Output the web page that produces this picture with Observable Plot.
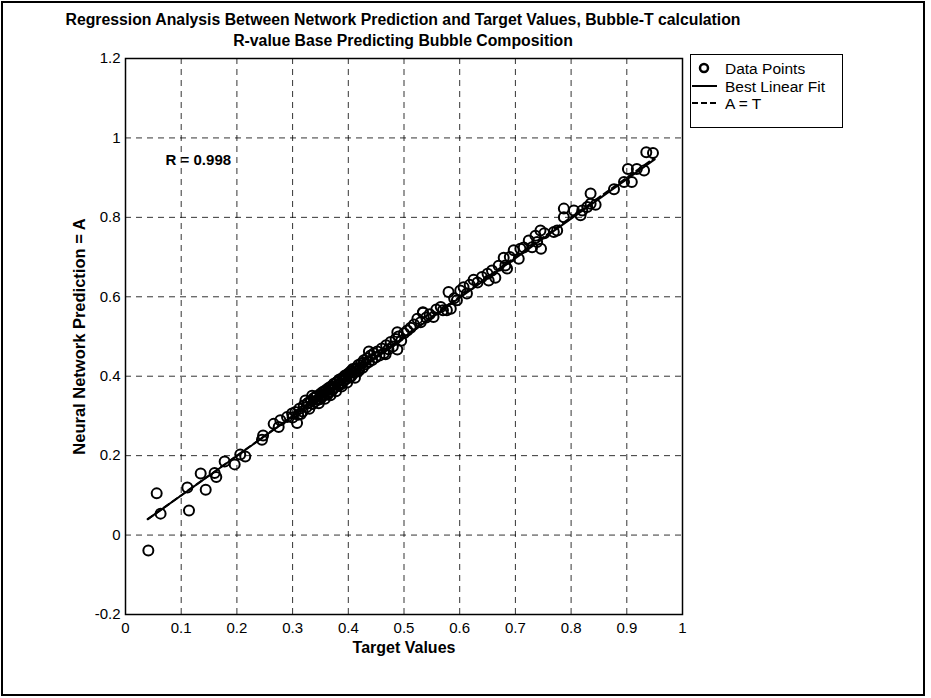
<!DOCTYPE html>
<html>
<head>
<meta charset="utf-8">
<script src="https://cdn.jsdelivr.net/npm/d3@7"></script>
<script src="https://cdn.jsdelivr.net/npm/@observablehq/plot@0.6"></script>
<style>
  body { margin: 0; background: #fff; }
  #fig { position: relative; width: 931px; height: 698px; font-family: "Liberation Sans", Arial, sans-serif; }
  #outer { position: absolute; left: 1px; top: 1px; width: 920px; height: 691px; border: 2px solid #000; box-sizing: content-box; pointer-events: none; }
  .title { position: absolute; left: 0; width: 806px; text-align: center; font-family: "Liberation Sans", Arial, sans-serif; font-weight: bold; font-size: 15.8px; line-height: 18px; color: #000; white-space: nowrap; }
  #legend { position: absolute; left: 690px; top: 54px; width: 151px; height: 72px; border: 1px solid #000; background: #fff; }
  #chart { position: absolute; left: 0; top: 0; }
</style>
</head>
<body>
<div id="fig">
  <div id="chart"></div>
  <div class="title" style="top:11px">Regression Analysis Between Network Prediction and Target Values, Bubble-T calculation</div>
  <div class="title" style="top:32px">R-value Base Predicting Bubble Composition</div>
  <div id="legend"></div>
  <div id="outer"></div>
</div>
<script>
// ---- data ----
const targetT = [
  0.041,0.056,0.063,0.111,0.114,0.135,0.144,0.160,0.163,0.178,0.196,0.206,0.215,0.245,0.247,0.266,0.275,0.278,0.290,0.299,0.308,0.323,0.335,
  0.300,0.305,0.310,0.312,0.318,0.320,0.325,0.328,0.330,0.333,0.336,0.338,0.340,0.343,0.345,0.347,0.350,0.352,0.354,0.356,0.358,0.360,
  0.362,0.364,0.366,0.368,0.370,0.372,0.374,0.376,0.378,0.380,0.382,0.384,0.386,0.388,0.390,0.392,0.394,0.396,0.398,0.400,0.402,0.404,
  0.406,0.408,0.410,0.412,0.414,0.416,0.418,0.420,0.423,0.426,0.428,0.431,0.434,0.437,0.437,0.440,0.443,0.446,0.449,0.452,0.456,0.460,
  0.464,0.467,0.468,0.472,0.476,0.480,0.485,0.488,0.488,0.490,0.495,0.500,0.506,0.512,0.518,0.524,0.530,0.534,0.534,0.540,0.546,0.553,
  0.558,0.566,0.570,0.577,0.580,0.584,0.590,0.595,0.601,0.607,0.613,0.618,0.625,0.632,0.640,0.650,0.652,0.658,0.664,0.670,0.679,0.682,
  0.685,0.690,0.697,0.706,0.709,0.715,0.724,0.730,0.736,0.739,0.745,0.746,0.752,0.769,0.775,0.787,0.787,0.805,0.817,0.820,0.829,0.835,
  0.835,0.844,0.877,0.895,0.902,0.909,0.918,0.931,0.935,0.947,
  0.315,0.327,0.342,0.349,0.357,0.363,0.371,0.379,0.387,0.395,0.403,0.411,0.419,0.427,0.352,0.367,0.383,0.399
];
const predictedA = [
  -0.039,0.105,0.054,0.120,0.062,0.155,0.114,0.156,0.146,0.185,0.178,0.203,0.198,0.240,0.251,0.280,0.272,0.289,0.297,0.306,0.282,0.339,0.351,
  0.296,0.310,0.303,0.318,0.311,0.326,0.322,0.333,0.318,0.338,0.330,0.345,0.336,0.350,0.341,0.332,0.356,0.347,0.360,0.352,0.343,0.365,
  0.357,0.370,0.361,0.352,0.375,0.366,0.381,0.372,0.362,0.386,0.378,0.392,0.383,0.374,0.396,0.388,0.402,0.393,0.384,0.407,0.398,0.412,
  0.401,0.418,0.409,0.396,0.420,0.412,0.428,0.418,0.432,0.421,0.440,0.430,0.445,0.436,0.462,0.452,0.441,0.458,0.447,0.462,0.452,0.470,
  0.458,0.455,0.478,0.468,0.486,0.475,0.494,0.467,0.511,0.500,0.489,0.508,0.515,0.522,0.530,0.545,0.536,0.560,0.561,0.548,0.556,0.549,
  0.568,0.574,0.566,0.566,0.612,0.570,0.596,0.591,0.616,0.624,0.608,0.630,0.643,0.636,0.650,0.658,0.641,0.666,0.648,0.678,0.698,0.679,
  0.671,0.700,0.717,0.696,0.721,0.724,0.742,0.725,0.754,0.738,0.767,0.721,0.760,0.763,0.767,0.822,0.800,0.817,0.805,0.817,0.826,0.860,
  0.834,0.832,0.871,0.889,0.922,0.889,0.922,0.918,0.964,0.962,
  0.305,0.331,0.347,0.342,0.362,0.354,0.366,0.384,0.380,0.399,0.397,0.417,0.414,0.434,0.351,0.372,0.377,0.404
];
const fitT = [0.040, 0.950];
const fitA = [0.040, 0.946];
const identityT = [0.040, 0.950];
const rLabel = "R = 0.998";
const rPos = [0.072, 0.943];
const xTicks = [0,0.1,0.2,0.3,0.4,0.5,0.6,0.7,0.8,0.9,1];
const yTicks = [-0.2,0,0.2,0.4,0.6,0.8,1,1.2];
const xTitle = "Target Values";
const yTitle = "Neural Network Prediction = A";
const legendLabels = ["Data Points", "Best Linear Fit", "A = T"];

// ---- build ----
const points = targetT.map((t, i) => ({t, a: predictedA[i]}));
const fitLine = fitT.map((t, i) => ({t, a: fitA[i]}));
const idLine = identityT.map(t => ({t, a: t}));
const fmt = d => String(+d.toFixed(1));

const chart = Plot.plot({
  width: 931,
  height: 698,
  marginLeft: 125,
  marginRight: 249,
  marginTop: 58,
  marginBottom: 84,
  style: {fontFamily: "'Liberation Sans', Arial, sans-serif", fontSize: "15px", background: "transparent", overflow: "visible", color: "#000"},
  x: {domain: [0, 1]},
  y: {domain: [-0.2, 1.2]},
  marks: [
    Plot.gridX(xTicks, {stroke: "#000", strokeOpacity: 0.8, strokeDasharray: "6,5", strokeWidth: 1}),
    Plot.gridY(yTicks, {stroke: "#000", strokeOpacity: 0.8, strokeDasharray: "6,5", strokeWidth: 1}),
    Plot.axisX(xTicks, {tickSize: 0, tickPadding: 8, tickFormat: fmt, fontSize: 15, label: null}),
    Plot.axisY(yTicks, {tickSize: 0, tickPadding: 5, tickFormat: fmt, fontSize: 15, label: null}),
    Plot.line(idLine, {x: "t", y: "a", stroke: "#000", strokeWidth: 2, strokeDasharray: "6,4"}),
    Plot.line(fitLine, {x: "t", y: "a", stroke: "#000", strokeWidth: 2}),
    Plot.dot(points, {x: "t", y: "a", r: 5, stroke: "#000", strokeWidth: 2, fill: "none"}),
    Plot.text([rLabel], {x: rPos[0], y: rPos[1], text: d => d, textAnchor: "start", fontWeight: "bold", fontSize: 15}),
    Plot.text([xTitle], {frameAnchor: "bottom", dy: 38, text: d => d, textAnchor: "middle", fontWeight: "bold", fontSize: 16}),
    Plot.text([yTitle], {frameAnchor: "left", dx: -46, rotate: -90, text: d => d, textAnchor: "middle", fontWeight: "bold", fontSize: 16.5}),
    Plot.frame({stroke: "#000", strokeWidth: 1.5})
  ]
});
document.getElementById("chart").appendChild(chart);

// ---- legend ----
const lg = d3.select("#legend").append("svg").attr("width", 151).attr("height", 72)
  .style("font-family", "'Liberation Sans', Arial, sans-serif").style("font-size", "15.5px");
const rows = [13, 31, 48];
lg.append("circle").attr("cx", 13).attr("cy", rows[0]).attr("r", 4).attr("fill", "none").attr("stroke", "#000").attr("stroke-width", 2.5);
lg.append("line").attr("x1", 1).attr("x2", 26).attr("y1", rows[1]).attr("y2", rows[1]).attr("stroke", "#000").attr("stroke-width", 2);
lg.append("line").attr("x1", 1).attr("x2", 26).attr("y1", rows[2]).attr("y2", rows[2]).attr("stroke", "#000").attr("stroke-width", 2).attr("stroke-dasharray", "6,3");
legendLabels.forEach((s, i) => {
  lg.append("text").attr("x", 34).attr("y", rows[i]).attr("dy", "0.36em").text(s);
});
</script>
</body>
</html>
